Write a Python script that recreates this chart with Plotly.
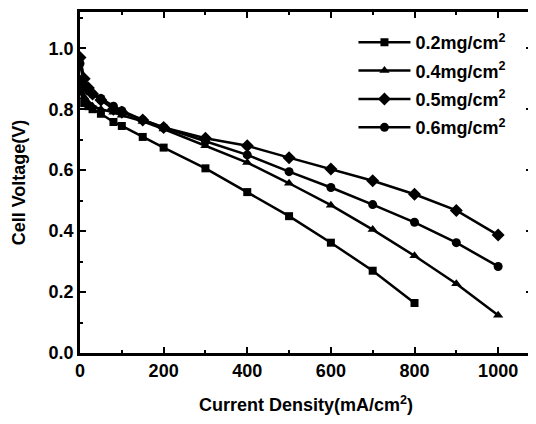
import plotly.graph_objects as go

current = [0, 10, 20, 30, 50, 80, 100, 150, 200, 300, 400, 500, 600, 700, 800, 900, 1000]
current_02 = current[:15]

v_02 = [0.86, 0.82, 0.81, 0.80, 0.785, 0.758, 0.745, 0.709, 0.674, 0.606, 0.528, 0.449, 0.362, 0.270, 0.164]
v_04 = [0.90, 0.84, 0.82, 0.81, 0.80, 0.79, 0.78, 0.76, 0.735, 0.68, 0.625, 0.557, 0.485, 0.405, 0.319, 0.227, 0.124]
v_05 = [0.97, 0.90, 0.87, 0.85, 0.83, 0.80, 0.79, 0.765, 0.74, 0.705, 0.68, 0.641, 0.604, 0.565, 0.521, 0.468, 0.387]
v_06 = [0.95, 0.88, 0.86, 0.85, 0.835, 0.81, 0.795, 0.765, 0.74, 0.695, 0.65, 0.595, 0.543, 0.487, 0.429, 0.362, 0.284]

names = ["0.2mg/cm<sup>2</sup>", "0.4mg/cm<sup>2</sup>", "0.5mg/cm<sup>2</sup>", "0.6mg/cm<sup>2</sup>"]
xticks = [0, 200, 400, 600, 800, 1000]
yticks = [0.0, 0.2, 0.4, 0.6, 0.8, 1.0]

FONT = "Liberation Sans"

fig = go.Figure()
series = [
    (current_02, v_02, "square", 8),
    (current, v_04, "triangle-up", 9),
    (current, v_05, "diamond", 10),
    (current, v_06, "circle", 9),
]
for i, ((x, y, sym, sz), nm) in enumerate(zip(series, names)):
    fig.add_trace(go.Scatter(
        x=x, y=y, name="<b>" + nm + "</b>", mode="lines+markers",
        legendgroup=f"g{i}",
        line=dict(color="black", width=2.5),
        marker=dict(symbol=sym, size=sz, color="black"),
    ))

axis_common = dict(
    showline=True, linecolor="black", linewidth=2.5, mirror="ticks",
    ticks="inside", ticklen=6, tickwidth=2, tickcolor="black",
    showgrid=False, zeroline=False,
    tickfont=dict(family=FONT, size=18, color="black"),
)

fig.update_xaxes(
    range=[0, 1081], tickvals=xticks, ticktext=[f"<b>{t}</b>" for t in xticks],
    minor=dict(dtick=100, ticks="inside", ticklen=3, tickwidth=2, tickcolor="black"),
    title=dict(text="<b>Current Density(mA/cm<sup>2</sup>)</b>", standoff=19,
               font=dict(family=FONT, size=18, color="black")),
    **axis_common,
)
fig.update_yaxes(
    range=[0, 1.119], tickvals=yticks, ticktext=[f"<b>{t:.1f}</b>" for t in yticks],
    minor=dict(dtick=0.1, ticks="inside", ticklen=3, tickwidth=2, tickcolor="black"),
    title=dict(text="<b>Cell Voltage(V)</b>", standoff=19,
               font=dict(family=FONT, size=18, color="black")),
    **axis_common,
)

fig.update_layout(
    width=528, height=416,
    margin=dict(l=72, r=1, t=1, b=71),
    paper_bgcolor="white", plot_bgcolor="white",
    showlegend=True,
    legend=dict(
        x=0.605, y=0.965, xanchor="left", yanchor="top",
        bgcolor="rgba(0,0,0,0)", itemwidth=52, tracegroupgap=2,
        font=dict(family=FONT, size=18, color="black"),
    ),
)

fig.write_html("out.html")
